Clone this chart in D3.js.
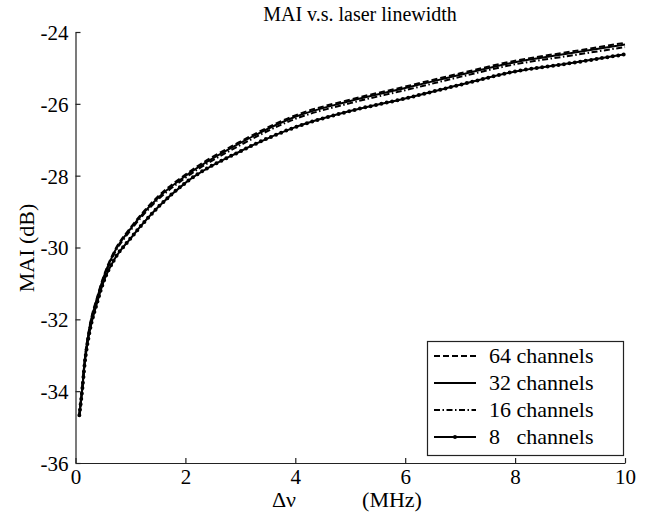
<!DOCTYPE html>
<html>
<head>
<meta charset="utf-8">
<script src="https://cdn.jsdelivr.net/npm/d3@7"></script>
<style>
  body { margin: 0; background: #fff; }
  svg text { font-family: "Liberation Serif", "DejaVu Serif", "Times New Roman", serif !important; fill: #000; }
</style>
</head>
<body>
<div id="chart"></div>
<script>
;(function () {
  // linewidth in MHz
  const linewidth = [0.07, 0.12, 0.17, 0.25, 0.4, 0.5, 0.7, 1, 1.5, 2, 3, 4, 5, 6, 7, 8, 9, 10]

  // MAI in dB
  const mai64 = [-34.67, -33.95, -33.1, -32.25, -31.35, -30.85, -30.12, -29.45, -28.58, -27.97, -27.05, -26.32, -25.88, -25.52, -25.15, -24.8, -24.55, -24.3]
  const mai32 = [-34.67, -33.96, -33.12, -32.28, -31.38, -30.88, -30.15, -29.48, -28.62, -28.01, -27.09, -26.36, -25.92, -25.56, -25.19, -24.84, -24.59, -24.35]
  const mai16 = [-34.67, -33.97, -33.14, -32.3, -31.41, -30.91, -30.19, -29.53, -28.67, -28.06, -27.15, -26.42, -25.98, -25.62, -25.25, -24.9, -24.66, -24.42]
  const mai8 = [-34.67, -34.0, -33.2, -32.4, -31.5, -31.0, -30.35, -29.75, -28.88, -28.2, -27.32, -26.65, -26.2, -25.85, -25.47, -25.1, -24.87, -24.62]

  const seriesNames = ["64 channels", "32 channels", "16 channels", "8   channels"]
  const xTicks = [0, 2, 4, 6, 8, 10]
  const yTicks = [-36, -34, -32, -30, -28, -26, -24]

  const width = 646
  const height = 519
  const margin = { top: 32, right: 21, bottom: 56, left: 75.5 }
  const serif = "'Liberation Serif', 'DejaVu Serif', serif"

  const svg = d3.select("#chart").append("svg")
    .attr("width", width).attr("height", height)
    .attr("font-family", serif)

  const x = d3.scaleLinear().domain([0, 10]).range([margin.left, width - margin.right])
  const y = d3.scaleLinear().domain([-36, -24]).range([height - margin.bottom, margin.top])

  // axes, MATLAB style with ticks pointing in
  const xAxis = svg.append("g")
    .attr("transform", `translate(0,${height - margin.bottom})`)
    .call(d3.axisBottom(x).tickValues(xTicks).tickSize(-5).tickSizeOuter(0).tickPadding(6).tickFormat(d => String(d)))
  const yAxis = svg.append("g")
    .attr("transform", `translate(${margin.left},0)`)
    .call(d3.axisLeft(y).tickValues(yTicks).tickSize(-5).tickSizeOuter(0).tickPadding(7).tickFormat(d => String(d)))

  svg.selectAll("g").attr("font-family", serif).attr("font-size", 21)
  svg.selectAll(".domain, .tick line").attr("stroke", "#222").attr("stroke-width", 1.2)
  yAxis.selectAll(".tick text").attr("dy", "0.35em")

  const line = d3.line()
    .x((d, i) => x(linewidth[i]))
    .y(d => y(d))
    .curve(d3.curveMonotoneX)

  const styles = [
    { data: mai64, dash: "6,3" },
    { data: mai32, dash: null },
    { data: mai16, dash: "6,2.5,1.5,2.5" },
    { data: mai8, dash: null, dots: true }
  ]

  // draw 8 first so the close ones sit on top
  styles.slice().reverse().forEach(s => {
    svg.append("path")
      .attr("d", line(s.data))
      .attr("fill", "none")
      .attr("stroke", "#000")
      .attr("stroke-width", 2)
      .attr("stroke-dasharray", s.dash)
    if (s.dots) {
      // point markers along the 8 channel curve
      svg.append("path")
        .attr("d", line(s.data))
        .attr("fill", "none")
        .attr("stroke", "#000")
        .attr("stroke-width", 4)
        .attr("stroke-linecap", "round")
        .attr("stroke-dasharray", "0,5.5")
    }
  })

  // titles
  svg.append("text")
    .attr("x", 360).attr("y", 21)
    .attr("text-anchor", "middle").attr("font-size", 20)
    .text("MAI v.s. laser linewidth")

  svg.append("text")
    .attr("transform", "translate(34,248) rotate(-90)")
    .attr("text-anchor", "middle").attr("font-size", 22)
    .text("MAI (dB)")

  svg.append("text")
    .attr("x", 284).attr("y", 507)
    .attr("text-anchor", "middle").attr("font-size", 22)
    .text("Δν")
  svg.append("text")
    .attr("x", 392).attr("y", 507)
    .attr("text-anchor", "middle").attr("font-size", 22)
    .text("(MHz)")

  // legend
  const legend = svg.append("g")
  legend.append("rect")
    .attr("x", 427.5).attr("y", 341.5)
    .attr("width", 196).attr("height", 114)
    .attr("fill", "#fff").attr("stroke", "#222").attr("stroke-width", 1.2)

  const rows = legend.selectAll(".row")
    .data(styles)
    .join("g")
    .attr("class", "row")
    .attr("transform", (d, i) => `translate(0,${356 + i * 27})`)

  rows.append("line")
    .attr("x1", 434).attr("x2", 476)
    .attr("y1", 0).attr("y2", 0)
    .attr("stroke", "#000").attr("stroke-width", 2)
    .attr("stroke-dasharray", d => d.dash)

  rows.filter(d => d.dots).append("circle")
    .attr("cx", 455).attr("cy", 0).attr("r", 2)
    .attr("fill", "#000")

  rows.append("text")
    .attr("x", 489).attr("y", 7)
    .attr("font-size", 22)
    .style("white-space", "pre")
    .text((d, i) => seriesNames[i])
})()
</script>
</body>
</html>
